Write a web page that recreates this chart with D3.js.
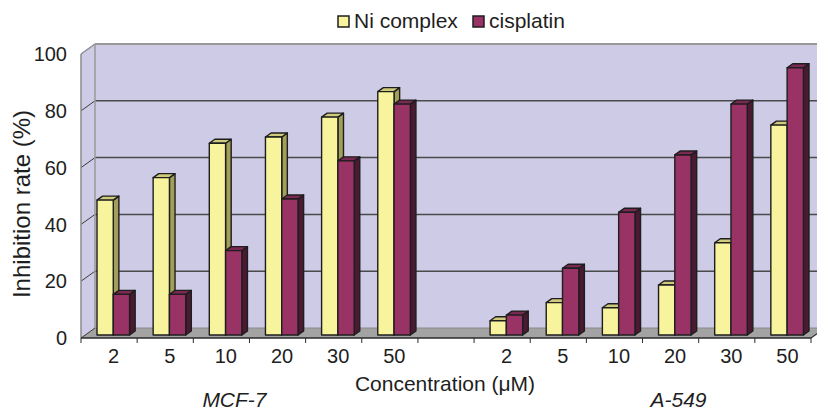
<!DOCTYPE html>
<html><head><meta charset="utf-8">
<script src="https://cdn.jsdelivr.net/npm/d3@7"></script>
<style>
html,body{margin:0;padding:0;background:#fff;}
svg{display:block;font-family:"Liberation Sans",Arial,sans-serif;}
</style></head>
<body><svg id="chart" width="817" height="412"></svg>
<script>
// ---- data ----
const concentrations = ["2","5","10","20","30","50"];
const cellLines = ["MCF-7","A-549"];
const seriesNames = ["Ni complex","cisplatin"];
const niMCF7 = [47.5, 55.4, 67.5, 69.7, 76.7, 85.7];
const cisMCF7 = [14.3, 14.3, 29.7, 47.9, 61.3, 81.3];
const niA549 = [5.0, 11.4, 9.6, 17.6, 32.5, 73.9];
const cisA549 = [7.0, 23.5, 43.2, 63.4, 81.3, 94.1];
const yTicks = [0,20,40,60,80,100];

// ---- build rows ----
const rows = [];
concentrations.forEach((c,i)=>rows.push({key:"M"+i,label:c,line:0,vals:[niMCF7[i],cisMCF7[i]]}));
rows.push({key:"gap",label:"",line:-1,vals:null});
concentrations.forEach((c,i)=>rows.push({key:"A"+i,label:c,line:1,vals:[niA549[i],cisA549[i]]}));

const svg = d3.select("#chart");
const W=817,H=412;
const DX=14, DY=-10;          // full depth offset
const fBar=0.3, fDepth=0.4;   // bar position / thickness in depth
const x = d3.scaleBand().domain(rows.map(r=>r.key)).range([81,811]).padding(0);
const y = d3.scaleLinear().domain([0,100]).range([338,54]);
const groupW = x.bandwidth()*0.58;
const sub = d3.scaleBand().domain(seriesNames).range([0,groupW]).padding(0);

const wallFill="#cecbe6", floorFill="#a3a3a3";
const colors = {
  "Ni complex":{front:"#f8f49d", top:"#cfca7c", side:"#a29f58"},
  "cisplatin":{front:"#993366", top:"#7a2952", side:"#4a1a32"}
};
const pts = a=>a.map(p=>p.join(",")).join(" ");
const x0=x.range()[0], x1=x.range()[1];

// left wall
svg.append("polygon").attr("points",pts([[x0,y(100)],[x0+DX,y(100)+DY],[x0+DX,y(0)+DY],[x0,y(0)]]))
  .attr("fill",wallFill);
// back wall
svg.append("rect").attr("x",x0+DX).attr("y",y(100)+DY).attr("width",x1-x0+20).attr("height",y(0)-y(100))
  .attr("fill",wallFill);
// floor
svg.append("polygon").attr("points",pts([[x0,y(0)],[x0+DX,y(0)+DY],[x1+DX,y(0)+DY],[x1,y(0)]]))
  .attr("fill",floorFill);

// gridlines on back wall and left-wall diagonals
yTicks.forEach(v=>{
  if(v>0 && v<100){
    svg.append("line").attr("x1",x0+DX).attr("x2",W).attr("y1",y(v)+DY).attr("y2",y(v)+DY)
      .attr("stroke","#4a4a4a").attr("stroke-width",1.5);
  }
  svg.append("line").attr("x1",x0).attr("y1",y(v)).attr("x2",x0+DX).attr("y2",y(v)+DY)
    .attr("stroke","#3a3a3a").attr("stroke-width",1);
});
// wall top border and left edges
svg.append("line").attr("x1",x0+DX).attr("x2",W).attr("y1",y(100)+DY).attr("y2",y(100)+DY)
  .attr("stroke","#999").attr("stroke-width",2);
svg.append("line").attr("x1",x0+DX).attr("x2",x0+DX).attr("y1",y(100)+DY).attr("y2",y(0)+DY)
  .attr("stroke","#999").attr("stroke-width",1.5);
svg.append("line").attr("x1",x0).attr("x2",x0).attr("y1",y(100)).attr("y2",y(0))
  .attr("stroke","#8a8a8a").attr("stroke-width",1.5);
svg.append("line").attr("x1",x0).attr("x2",x0+DX).attr("y1",y(100)).attr("y2",y(100)+DY)
  .attr("stroke","#999").attr("stroke-width",1.5);
// floor back edge and right edge
svg.append("line").attr("x1",x0+DX).attr("x2",W).attr("y1",y(0)+DY).attr("y2",y(0)+DY)
  .attr("stroke","#8a8a8a").attr("stroke-width",1);
svg.append("line").attr("x1",x1).attr("x2",x1+DX).attr("y1",y(0)).attr("y2",y(0)+DY)
  .attr("stroke","#333").attr("stroke-width",1.2);
// floor front edge and ticks
svg.append("line").attr("x1",x0).attr("x2",x1).attr("y1",y(0)).attr("y2",y(0))
  .attr("stroke","#2a2a2a").attr("stroke-width",1.5);
rows.map(r=>x(r.key)).concat([x1]).forEach(t=>{
  svg.append("line").attr("x1",t).attr("x2",t).attr("y1",y(0)).attr("y2",y(0)+5)
    .attr("stroke","#2a2a2a").attr("stroke-width",1);
});

// bars
const bx=DX*fBar, by=DY*fBar, tx=DX*fDepth, ty=DY*fDepth;
const gBars = svg.append("g");
rows.forEach(r=>{
  if(!r.vals) return;
  const gx = x(r.key)+(x.bandwidth()-groupW)/2;
  seriesNames.forEach((s,si)=>{
    const v=r.vals[si];
    const L = gx+sub(s)+bx, R = L+sub.bandwidth();
    const B = y(0)+by, T = y(v)+by;
    const c = colors[s];
    const g = gBars.append("g").attr("stroke","#1e1e1e").attr("stroke-width",1.4).attr("stroke-linejoin","round");
    g.append("polygon").attr("points",pts([[R,T],[R+tx,T+ty],[R+tx,B+ty],[R,B]])).attr("fill",c.side);
    g.append("polygon").attr("points",pts([[L,T],[L+tx,T+ty],[R+tx,T+ty],[R,T]])).attr("fill",c.top);
    g.append("rect").attr("x",L).attr("y",T).attr("width",R-L).attr("height",B-T).attr("fill",c.front);
  });
});

// y tick labels
svg.append("g").selectAll("text").data(yTicks).join("text")
  .attr("x",67).attr("y",d=>y(d)).attr("dy","0.36em").attr("text-anchor","end")
  .attr("font-size",20).attr("fill","#1e1e1e").text(d=>d);
// x tick labels
svg.append("g").selectAll("text").data(rows.filter(r=>r.vals)).join("text")
  .attr("x",r=>x(r.key)+x.bandwidth()/2+4.5).attr("y",363).attr("text-anchor","middle")
  .attr("font-size",20).attr("fill","#1e1e1e").text(r=>r.label);
// cell line labels
const lineOffset=[-15,36];
cellLines.forEach((cl,i)=>{
  const rs=rows.filter(r=>r.line===i);
  const cx=(x(rs[0].key)+x(rs[rs.length-1].key)+x.bandwidth())/2;
  svg.append("text").attr("x",cx+lineOffset[i]).attr("y",407).attr("text-anchor","middle")
    .attr("font-size",21).attr("font-style","italic").attr("fill","#1e1e1e").text(cl);
});
// axis titles
svg.append("text").attr("x",445).attr("y",391).attr("text-anchor","middle")
  .attr("font-size",21).attr("fill","#1e1e1e").text("Concentration (μM)");
svg.append("text").attr("transform","translate(30,204) rotate(-90)").attr("text-anchor","middle")
  .attr("font-size",24).attr("fill","#1e1e1e").text("Inhibition rate (%)");

// legend
const leg = svg.append("g");
const legX=[338,473];
seriesNames.forEach((s,i)=>{
  leg.append("rect").attr("x",legX[i]).attr("y",16).attr("width",11).attr("height",11)
    .attr("fill",colors[s].front).attr("stroke","#1e1e1e").attr("stroke-width",1.5);
  leg.append("text").attr("x",legX[i]+16).attr("y",28).attr("font-size",21).attr("fill","#1e1e1e").text(s);
});
</script></body></html>
